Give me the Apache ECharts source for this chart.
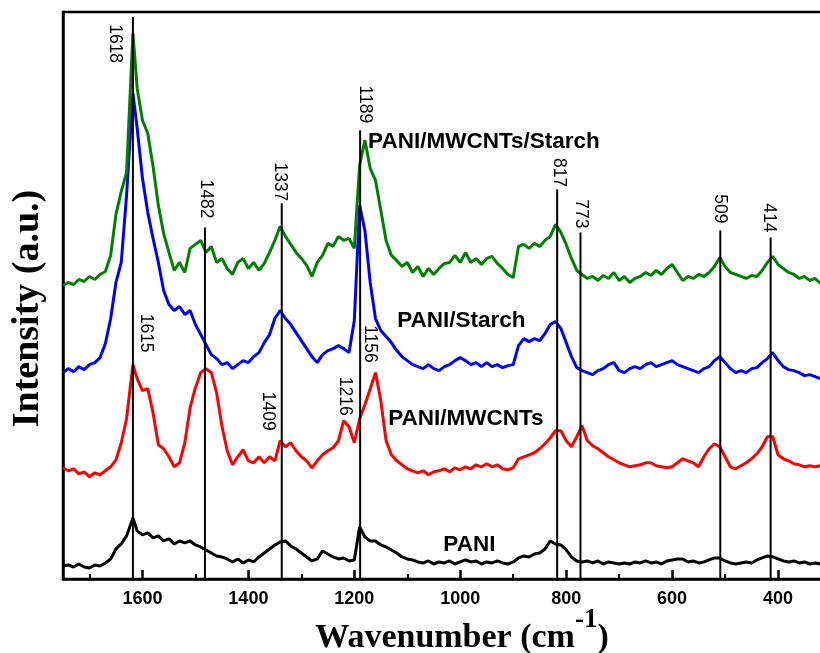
<!DOCTYPE html>
<html>
<head>
<meta charset="utf-8">
<script src="https://cdn.jsdelivr.net/npm/echarts@6/dist/echarts.min.js"></script>
<style>
  html, body { margin: 0; padding: 0; background: #fff; }
  #chart { width: 820px; height: 653px; }
</style>
</head>
<body>
<div id="chart"></div>
<script>
// Raman shift sampling points (cm-1), shared by all four spectra
const wavenumbers = [
  1750,1740,1730,1720,1710,1700,1690,1680,1670,1660,
  1650,1640,1630,1618,1610,1600,1590,1580,1570,1560,
  1550,1540,1530,1520,1510,1500,1490,1480,1470,1460,
  1450,1440,1430,1420,1410,1400,1390,1380,1370,1360,
  1350,1340,1330,1320,1310,1300,1290,1280,1270,1260,
  1250,1240,1230,1220,1210,1200,1190,1180,1170,1160,
  1150,1140,1130,1120,1110,1100,1090,1080,1070,1060,
  1050,1040,1030,1020,1010,1000,990,980,970,960,
  950,940,930,920,910,900,890,880,870,860,
  850,840,830,820,810,800,790,780,770,760,
  750,740,730,720,710,700,690,680,670,660,
  650,640,630,620,610,600,590,580,570,560,
  550,540,530,520,510,500,490,480,470,460,
  450,440,430,420,410,400,390,380,370,360,
  350,340,330,320
];

// Offset intensities (a.u.)
const paniMwcntsStarch = [
  293,296,294,299,297,302,299,304,307,323,
  364,387,406,545,490,458,445,412,373,345,
  326,308,316,306,330,334,338,326,332,316,
  320,310,304,316,320,310,316,308,315,326,
  338,352,342,334,326,320,313,302,316,323,
  335,332,342,338,340,330,413,438,410,398,
  368,338,323,318,312,316,306,312,302,310,
  304,310,315,316,323,316,326,316,320,314,
  320,322,315,310,304,301,332,334,330,335,
  332,338,342,354,346,334,320,308,304,300,
  302,298,303,300,306,298,302,296,300,302,
  306,303,308,304,310,314,306,298,302,300,
  304,302,306,312,321,312,306,304,302,300,
  303,302,308,316,322,314,310,306,304,300,
  302,298,300,295
];
const paniStarch = [
  206,210,207,212,209,214,216,221,235,260,
  296,316,383,485,450,400,366,340,316,288,
  274,268,272,264,268,254,244,234,224,220,
  214,216,210,214,218,216,222,226,236,244,
  260,268,260,254,246,238,230,222,216,224,
  228,230,233,230,226,258,373,348,296,260,
  248,242,236,228,222,218,214,212,210,214,
  210,208,212,214,218,221,218,214,216,212,
  216,212,214,211,213,214,233,240,237,240,
  238,245,254,257,250,236,222,211,208,206,
  204,208,210,214,216,208,206,210,212,210,
  214,216,212,214,216,218,214,212,210,208,
  206,210,212,218,222,216,210,206,208,206,
  210,211,216,220,226,218,212,209,208,206,
  203,204,202,200
];
const paniMwcnts = [
  111,108,110,105,107,102,106,104,108,112,
  119,136,160,214,200,188,190,166,134,130,
  122,112,116,136,171,191,206,210,206,186,
  153,128,114,122,129,118,116,122,116,122,
  118,138,132,136,128,122,118,111,118,124,
  128,131,138,158,152,136,160,174,190,206,
  178,138,124,118,114,110,108,106,108,104,
  107,108,110,107,111,109,112,110,114,112,
  115,112,114,110,109,111,120,122,124,126,
  130,135,141,148,148,138,132,142,153,138,
  133,130,126,122,119,116,114,112,113,114,
  116,116,113,112,111,112,116,120,118,116,
  112,122,130,135,132,122,112,110,113,116,
  120,125,132,142,142,124,120,118,115,114,
  112,113,112,113
];
const pani = [
  13,14,12,15,12,11,14,13,16,20,
  30,35,43,61,48,44,46,41,43,38,
  40,35,38,36,38,34,32,29,26,23,
  22,20,17,20,16,19,17,22,26,30,
  34,37,38,33,30,26,22,18,20,28,
  25,22,20,21,18,19,52,42,38,38,
  34,32,29,26,22,20,19,17,16,18,
  15,17,16,18,15,17,19,17,18,15,
  17,16,18,16,15,17,21,23,22,25,
  26,30,38,35,34,29,22,18,17,18,
  16,18,15,17,16,15,16,15,17,16,
  18,16,17,15,18,19,20,20,17,18,
  16,17,19,21,21,18,16,15,16,17,
  16,19,21,23,22,20,18,17,18,16,
  17,15,16,15
];

const sampleNames = ['PANI/MWCNTs/Starch', 'PANI/Starch', 'PANI/MWCNTs', 'PANI'];
const sampleValues = [paniMwcntsStarch, paniStarch, paniMwcnts, pani];

// Assigned band positions and the height each marker line reaches
const peakWavenumbers = [1618, 1482, 1337, 1189, 817, 773, 509, 414];
const peakLineTops = [561, 351, 375, 448, 389, 346, 348, 341];
// Extra band assignments written beside the MWCNT spectrum
const bandNotes = ['1615', '1409', '1216', '1156'];

const majorTicks = [1600, 1400, 1200, 1000, 800, 600, 400];
const minorTicks = [1700, 1500, 1300, 1100, 900, 700, 500, 300];

// Text placement, in axis units
const peakTagAnchors = [[1652, 515], [1480, 360], [1340, 377], [1181, 455], [813, 391], [773, 350], [509, 355], [418, 346]];
const noteAnchors = [[1593, 226], [1364, 148], [1217, 163], [1170, 216]];
const nameAnchors = [[1174, 436], [1119, 258], [1136, 160], [1032, 34]];

const colors = ['#008000', '#0000ff', '#ff0000', '#000000'];
const SANS = '"Liberation Sans", Arial, sans-serif';
const SERIF = '"Liberation Serif", "Times New Roman", serif';

const chart = echarts.init(document.getElementById('chart'), null, { renderer: 'canvas' });

const spectra = sampleValues.map((vals, k) => ({
  name: sampleNames[k],
  type: 'line',
  data: wavenumbers.map((w, i) => [w, vals[i]]),
  showSymbol: false,
  symbol: 'none',
  lineStyle: { color: colors[k], width: 3 },
  z: 2 + (3 - k) * 0.1,
  animation: false
}));

const tagTexts = peakWavenumbers.map(String).concat(bandNotes);
const tagAnchors = peakTagAnchors.concat(noteAnchors);

const option = {
  animation: false,
  backgroundColor: '#fff',
  grid: {
    left: 63, right: -11, top: 12, bottom: 74,
    outerBoundsMode: 'none',
    show: true, borderColor: '#000', borderWidth: 2.5, backgroundColor: 'transparent'
  },
  xAxis: [
    {
      type: 'value', min: 300, max: 1750, inverse: true,
      axisLine: { show: true, lineStyle: { color: '#000', width: 2.5 } },
      axisTick: { show: true, inside: true, length: 9, customValues: majorTicks, lineStyle: { color: '#000', width: 2.5 } },
      axisLabel: {
        customValues: majorTicks, margin: 11, color: '#000',
        fontFamily: SANS, fontWeight: 'bold', fontSize: 18,
        formatter: (v) => String(v)
      },
      splitLine: { show: false },
      name: '{m|Wavenumber (cm}{s|-1}{m|)}',
      nameLocation: 'middle', nameGap: 28,
      nameMoveOverlap: false,
      nameTextStyle: {
        padding: [0, 0, 0, 30],
        rich: {
          m: { fontFamily: SERIF, fontWeight: 'bold', fontSize: 34, color: '#000', padding: [14, 0, 0, 0], verticalAlign: 'bottom' },
          s: { fontFamily: SERIF, fontWeight: 'bold', fontSize: 27, color: '#000', verticalAlign: 'top' }
        }
      }
    },
    {
      type: 'value', min: 300, max: 1750, inverse: true, position: 'bottom',
      axisLine: { show: false },
      axisTick: { show: true, inside: true, length: 5, customValues: minorTicks, lineStyle: { color: '#000', width: 2 } },
      axisLabel: { show: false },
      splitLine: { show: false }
    }
  ],
  yAxis: {
    type: 'value', min: 0, max: 566,
    axisLine: { show: true, lineStyle: { color: '#000', width: 2.5 } },
    axisTick: { show: false },
    axisLabel: { show: false },
    splitLine: { show: false },
    name: 'Intensity (a.u.)',
    nameLocation: 'middle', nameGap: 16,
    nameMoveOverlap: false,
    nameTextStyle: { fontFamily: SERIF, fontWeight: 'bold', fontSize: 38, color: '#000', padding: [0, 26, 0, 0] }
  },
  series: spectra.concat([
    {
      name: 'band markers',
      type: 'custom',
      coordinateSystem: 'cartesian2d',
      data: peakWavenumbers.map((w, i) => [w, peakLineTops[i]]),
      encode: { x: 0, y: 1 },
      z: 5,
      renderItem: (params, api) => {
        const a = api.coord([api.value(0), 0]);
        const b = api.coord([api.value(0), api.value(1)]);
        return {
          type: 'line',
          shape: { x1: a[0], y1: a[1], x2: b[0], y2: b[1] },
          style: { stroke: '#000', lineWidth: 2 }
        };
      }
    },
    {
      name: 'band labels',
      type: 'custom',
      coordinateSystem: 'cartesian2d',
      data: tagAnchors,
      encode: { x: 0, y: 1 },
      z: 6,
      renderItem: (params, api) => {
        const p = api.coord([api.value(0), api.value(1)]);
        return {
          type: 'text',
          x: p[0], y: p[1],
          rotation: -Math.PI / 2,
          style: {
            text: tagTexts[params.dataIndex],
            fill: '#000',
            font: '17.5px ' + SANS,
            align: 'right', verticalAlign: 'middle',
            textAlign: 'right', textVerticalAlign: 'middle'
          }
        };
      }
    },
    {
      name: 'sample names',
      type: 'custom',
      coordinateSystem: 'cartesian2d',
      data: nameAnchors,
      encode: { x: 0, y: 1 },
      z: 6,
      renderItem: (params, api) => {
        const p = api.coord([api.value(0), api.value(1)]);
        return {
          type: 'text',
          x: p[0], y: p[1],
          style: {
            text: sampleNames[params.dataIndex],
            fill: '#000',
            font: 'bold 22.5px ' + SANS,
            align: 'left', verticalAlign: 'middle',
            textAlign: 'left', textVerticalAlign: 'middle'
          }
        };
      }
    }
  ])
};

chart.setOption(option);
</script>
</body>
</html>
